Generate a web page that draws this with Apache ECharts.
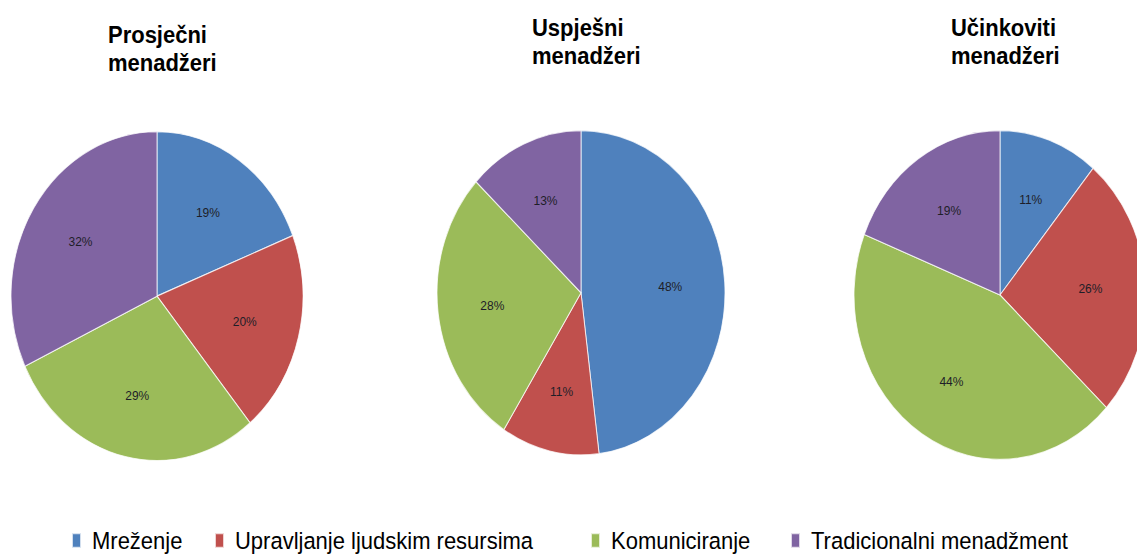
<!DOCTYPE html>
<html>
<head>
<meta charset="utf-8">
<script src="https://cdn.jsdelivr.net/npm/echarts@6/dist/echarts.min.js"></script>
<style>
  html { margin: 0; padding: 0; background: #fff; overflow: hidden; }
  body { margin: 0; padding: 0; width: 1137px; height: 554px; }
  /* the original picture is a bit taller than wide, so the pies are ellipses */
  #main { width: 1137px; height: 492px; transform: scaleY(1.126); transform-origin: 0 0; }
</style>
</head>
<body>
<div id="main"></div>
<script>
// kategorije (legenda)
var categories = ['Mreženje', 'Upravljanje ljudskim resursima', 'Komuniciranje', 'Tradicionalni menadžment'];
// naslovi grafova
var titles = ['Prosječni\nmenadžeri', 'Uspješni\nmenadžeri', 'Učinkoviti\nmenadžeri'];
// postoci po grupi menadžera
var prosjecni = [19, 20, 29, 32];
var uspjesni = [48, 11, 28, 13];
var ucinkoviti = [11, 26, 44, 19];

var colors = ['#4F81BD', '#C0504D', '#9BBB59', '#8064A2'];

var chart = echarts.init(document.getElementById('main'), null, { renderer: 'svg' });

function toData(values) {
  return values.map(function (v, i) {
    return { name: categories[i], value: v };
  });
}

// one visible pie + one invisible ring that only carries the labels,
// so the labels sit a bit further out than the middle of the radius
function pieSeries(values, center, r) {
  var data = toData(values);
  return [{
    type: 'pie',
    center: center,
    radius: r,
    startAngle: 90,
    clockwise: true,
    data: data,
    label: { show: false },
    labelLine: { show: false },
    itemStyle: { borderColor: 'rgba(255,255,255,0.75)', borderWidth: 1 },
    emphasis: { disabled: true }
  }, {
    type: 'pie',
    center: center,
    radius: [r * 0.2, r],
    startAngle: 90,
    clockwise: true,
    silent: true,
    legendHoverLink: false,
    avoidLabelOverlap: false,
    percentPrecision: 0,
    data: data,
    itemStyle: { color: 'transparent' },
    label: {
      show: true,
      position: 'inside',
      formatter: '{d}%',
      color: '#1e1e28',
      fontSize: 12,
      fontFamily: 'Liberation Sans, Arial, sans-serif'
    },
    labelLine: { show: false },
    emphasis: { disabled: true }
  }];
}

function title(text, left, top) {
  return {
    text: text,
    left: left,
    top: top,
    padding: 0,
    textStyle: {
      fontSize: 22,
      fontWeight: 'bold',
      lineHeight: 25,
      color: '#000',
      fontFamily: 'Liberation Sans, Arial, sans-serif'
    }
  };
}

// each legend item is its own component so it can sit where Excel put it
function legend(i, left) {
  return {
    data: [{ name: categories[i], itemStyle: { color: colors[i] } }],
    left: left,
    top: 469,
    padding: 0,
    icon: 'rect',
    itemWidth: 9,
    itemHeight: 13,
    selectedMode: false,
    textStyle: {
      fontSize: 22,
      color: '#000',
      padding: [0, 0, 0, 6],
      fontFamily: 'Liberation Sans, Arial, sans-serif'
    }
  };
}

var option = {
  animation: false,
  backgroundColor: '#fff',
  color: colors,
  title: [
    title(titles[0], 108, 18),
    title(titles[1], 532, 12),
    title(titles[2], 951, 12)
  ],
  legend: [
    legend(0, 71),
    legend(1, 214),
    legend(2, 590),
    legend(3, 790)
  ],
  series: [].concat(
    pieSeries(prosjecni, [157, 263], 146),
    pieSeries(uspjesni, [581, 260], 144),
    pieSeries(ucinkoviti, [1000, 262], 146)
  )
};

chart.setOption(option);
</script>
</body>
</html>
